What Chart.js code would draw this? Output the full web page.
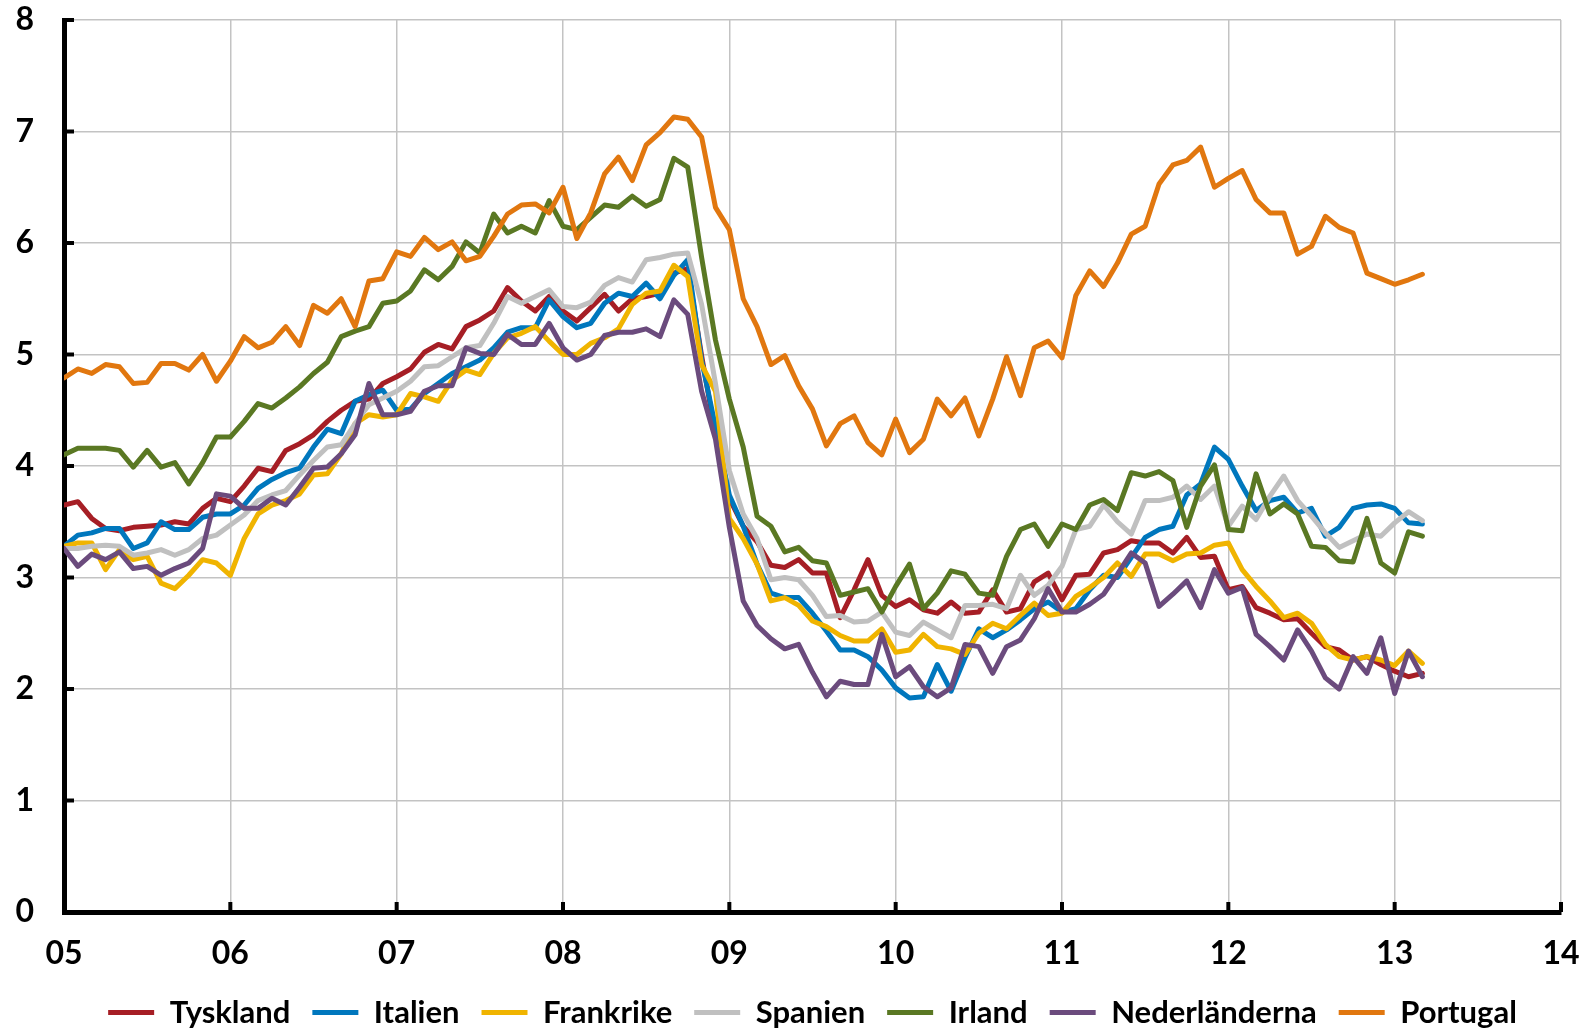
<!DOCTYPE html>
<html>
<head>
<meta charset="utf-8">
<script src="https://cdn.jsdelivr.net/npm/chart.js@4.4.0/dist/chart.umd.min.js"></script>
<style>
  html, body { margin: 0; padding: 0; background: #fff; }
  #wrap { width: 1588px; height: 1031px; }
</style>
</head>
<body>
<div id="wrap"><canvas id="chart"></canvas></div>
<script>
// monthly values, Jan 2005 .. Mar 2013
const yearLabels = ['05', '06', '07', '08', '09', '10', '11', '12', '13', '14'];

const tyskland = [
  3.65, 3.68, 3.53, 3.44, 3.42, 3.45, 3.46, 3.47, 3.50, 3.48, 3.62, 3.71,
  3.68, 3.82, 3.98, 3.95, 4.14, 4.20, 4.28, 4.40, 4.50, 4.58, 4.60, 4.74,
  4.80, 4.87, 5.02, 5.09, 5.05, 5.25, 5.31, 5.39, 5.60, 5.48, 5.39, 5.52,
  5.39, 5.30, 5.42, 5.54, 5.39, 5.50, 5.52, 5.55, 5.73, 5.77, 4.99, 4.28,
  3.71, 3.46, 3.32, 3.11, 3.09, 3.16, 3.04, 3.04, 2.64, 2.89, 3.16, 2.84,
  2.74, 2.80, 2.71, 2.68, 2.78, 2.68, 2.69, 2.89, 2.69, 2.72, 2.96, 3.04,
  2.80, 3.02, 3.03, 3.22, 3.25, 3.33, 3.31, 3.31, 3.22, 3.36, 3.18, 3.19,
  2.89, 2.92, 2.73, 2.68, 2.62, 2.63, 2.50, 2.38, 2.35, 2.26, 2.29, 2.22,
  2.16, 2.11, 2.14
];
const italien = [
  3.28, 3.38, 3.40, 3.44, 3.44, 3.26, 3.31, 3.50, 3.43, 3.43, 3.54, 3.57,
  3.57, 3.65, 3.80, 3.88, 3.94, 3.98, 4.17, 4.33, 4.29, 4.58, 4.64, 4.68,
  4.50, 4.51, 4.65, 4.74, 4.83, 4.89, 4.95, 5.06, 5.20, 5.24, 5.24, 5.49,
  5.34, 5.24, 5.28, 5.46, 5.55, 5.52, 5.64, 5.50, 5.71, 5.85, 4.95, 4.35,
  3.74, 3.46, 3.12, 2.86, 2.82, 2.82, 2.68, 2.52, 2.35, 2.35, 2.29, 2.17,
  2.01, 1.92, 1.93, 2.22, 1.98, 2.28, 2.54, 2.46, 2.53, 2.62, 2.72, 2.78,
  2.69, 2.72, 2.89, 3.02, 3.00, 3.18, 3.36, 3.43, 3.46, 3.74, 3.84, 4.17,
  4.06, 3.82, 3.60, 3.69, 3.72, 3.58, 3.62, 3.37, 3.45, 3.62, 3.65, 3.66,
  3.62, 3.49, 3.48
];
const frankrike = [
  3.28, 3.31, 3.31, 3.07, 3.25, 3.16, 3.19, 2.95, 2.90, 3.02, 3.16, 3.13,
  3.02, 3.35, 3.57, 3.65, 3.69, 3.75, 3.92, 3.93, 4.11, 4.38, 4.46, 4.44,
  4.46, 4.65, 4.62, 4.58, 4.77, 4.86, 4.82, 5.01, 5.15, 5.19, 5.25, 5.12,
  5.00, 5.00, 5.10, 5.15, 5.23, 5.45, 5.55, 5.57, 5.80, 5.70, 4.91, 4.67,
  3.53, 3.35, 3.12, 2.79, 2.82, 2.75, 2.61, 2.56, 2.48, 2.43, 2.43, 2.54,
  2.33, 2.35, 2.49, 2.38, 2.36, 2.31, 2.50, 2.59, 2.54, 2.66, 2.77, 2.66,
  2.68, 2.83, 2.91, 3.00, 3.13, 3.01, 3.21, 3.21, 3.15, 3.21, 3.22, 3.29,
  3.31, 3.07, 2.92, 2.79, 2.64, 2.68, 2.59, 2.40, 2.29, 2.26, 2.29, 2.26,
  2.21, 2.34, 2.23
];
const spanien = [
  3.26, 3.26, 3.28, 3.29, 3.28, 3.20, 3.22, 3.25, 3.20, 3.25, 3.35, 3.38,
  3.47, 3.56, 3.69, 3.74, 3.78, 3.92, 4.05, 4.17, 4.19, 4.38, 4.55, 4.61,
  4.67, 4.76, 4.89, 4.90, 4.98, 5.06, 5.08, 5.28, 5.52, 5.46, 5.52, 5.58,
  5.43, 5.42, 5.47, 5.62, 5.69, 5.65, 5.85, 5.87, 5.90, 5.91, 5.45, 4.74,
  3.96, 3.57, 3.35, 2.98, 3.00, 2.98, 2.84, 2.65, 2.66, 2.60, 2.61, 2.69,
  2.51, 2.48, 2.60, 2.53, 2.46, 2.75, 2.75, 2.76, 2.72, 3.02, 2.84, 2.93,
  3.10, 3.43, 3.46, 3.65, 3.50, 3.39, 3.69, 3.69, 3.72, 3.82, 3.70, 3.82,
  3.46, 3.64, 3.52, 3.73, 3.91, 3.69, 3.55, 3.40, 3.27, 3.33, 3.39, 3.37,
  3.49, 3.59, 3.51
];
const irland = [
  4.10, 4.16, 4.16, 4.16, 4.14, 3.99, 4.14, 3.99, 4.03, 3.84, 4.03, 4.26,
  4.26, 4.40, 4.56, 4.52, 4.61, 4.71, 4.83, 4.93, 5.16, 5.21, 5.25, 5.46,
  5.48, 5.57, 5.76, 5.67, 5.79, 6.01, 5.91, 6.26, 6.09, 6.15, 6.09, 6.38,
  6.15, 6.12, 6.23, 6.34, 6.32, 6.42, 6.33, 6.39, 6.76, 6.68, 5.87, 5.13,
  4.60, 4.17, 3.55, 3.46, 3.23, 3.27, 3.15, 3.13, 2.84, 2.87, 2.90, 2.69,
  2.92, 3.12, 2.72, 2.86, 3.06, 3.03, 2.86, 2.84, 3.19, 3.43, 3.48, 3.28,
  3.48, 3.43, 3.65, 3.70, 3.60, 3.94, 3.91, 3.95, 3.87, 3.45, 3.82, 4.01,
  3.43, 3.42, 3.93, 3.57, 3.66, 3.57, 3.28, 3.27, 3.15, 3.14, 3.53, 3.13,
  3.04, 3.41, 3.37
];
const nederlanderna = [
  3.26, 3.10, 3.21, 3.16, 3.23, 3.08, 3.10, 3.02, 3.08, 3.13, 3.26, 3.75,
  3.73, 3.62, 3.62, 3.71, 3.65, 3.81, 3.98, 3.99, 4.11, 4.28, 4.74, 4.46,
  4.46, 4.49, 4.67, 4.72, 4.72, 5.06, 5.01, 5.00, 5.18, 5.09, 5.09, 5.28,
  5.06, 4.95, 5.00, 5.17, 5.20, 5.20, 5.23, 5.16, 5.49, 5.36, 4.67, 4.24,
  3.45, 2.79, 2.57, 2.45, 2.36, 2.40, 2.15, 1.93, 2.07, 2.04, 2.04, 2.49,
  2.11, 2.20, 2.02, 1.93, 2.01, 2.40, 2.38, 2.14, 2.38, 2.44, 2.63, 2.90,
  2.69, 2.69, 2.76, 2.85, 3.03, 3.22, 3.13, 2.74, 2.85, 2.97, 2.73, 3.07,
  2.86, 2.91, 2.49, 2.38, 2.26, 2.53, 2.34, 2.10, 2.00, 2.29, 2.14, 2.46,
  1.96, 2.34, 2.11
];
const portugal = [
  4.79, 4.87, 4.83, 4.91, 4.89, 4.74, 4.75, 4.92, 4.92, 4.86, 5.00, 4.76,
  4.94, 5.16, 5.06, 5.11, 5.25, 5.08, 5.44, 5.37, 5.50, 5.25, 5.66, 5.68,
  5.92, 5.88, 6.05, 5.94, 6.01, 5.84, 5.88, 6.06, 6.26, 6.34, 6.35, 6.27,
  6.50, 6.04, 6.27, 6.62, 6.77, 6.56, 6.88, 6.99, 7.13, 7.11, 6.95, 6.32,
  6.12, 5.50, 5.25, 4.91, 4.99, 4.72, 4.51, 4.18, 4.38, 4.45, 4.21, 4.10,
  4.42, 4.12, 4.24, 4.60, 4.45, 4.61, 4.27, 4.60, 4.98, 4.63, 5.06, 5.12,
  4.97, 5.53, 5.75, 5.61, 5.82, 6.08, 6.15, 6.53, 6.70, 6.74, 6.86, 6.50,
  6.58, 6.65, 6.39, 6.27, 6.27, 5.90, 5.97, 6.24, 6.14, 6.09, 5.73, 5.68,
  5.63, 5.67, 5.72
];

function series(label, values, color, order) {
    return {
        label: label,
        data: values.map((v, i) => ({x: i, y: v})),
        borderColor: color,
        backgroundColor: color,
        borderWidth: 5,
        borderJoinStyle: 'round',
        borderCapStyle: 'round',
        pointRadius: 0,
        tension: 0,
        order: order
    };
}

const tickFont = {family: 'Lato', size: 32, weight: 'bold'};
const legendFont = {family: 'Lato', size: 31, weight: 'bold'};
const gridColor = '#c3c3c3';

// small inward tick marks on both axes, like the original
const innerTicks = {
    id: 'innerTicks',
    beforeDatasetsDraw(chart) {
        const {ctx, chartArea, scales} = chart;
        ctx.save();
        ctx.strokeStyle = '#000';
        ctx.lineWidth = 4;
        for (const t of scales.y.ticks) {
            const py = scales.y.getPixelForValue(t.value);
            ctx.beginPath();
            ctx.moveTo(chartArea.left, py);
            ctx.lineTo(chartArea.left + 10, py);
            ctx.stroke();
        }
        for (const t of scales.x.ticks) {
            const px = scales.x.getPixelForValue(t.value);
            ctx.beginPath();
            ctx.moveTo(px, chartArea.bottom);
            ctx.lineTo(px, chartArea.bottom - 10);
            ctx.stroke();
        }
        ctx.restore();
    }
};

const ctx = document.getElementById('chart');
new Chart(ctx, {
    type: 'line',
    data: {
        datasets: [
            series('Tyskland', tyskland, '#a61e25', 7),
            series('Italien', italien, '#0077bd', 6),
            series('Frankrike', frankrike, '#f0b400', 5),
            series('Spanien', spanien, '#c0c0c0', 4),
            series('Irland', irland, '#5a7823', 3),
            series('Nederländerna', nederlanderna, '#6b4b7d', 2),
            series('Portugal', portugal, '#e1770f', 1)
        ]
    },
    plugins: [innerTicks],
    options: {
        responsive: true,
        maintainAspectRatio: false,
        animation: false,
        layout: {padding: {left: 0, right: 27, top: 20, bottom: -7}},
        plugins: {
            legend: {
                position: 'bottom',
                fullSize: false,
                labels: {
                    usePointStyle: true,
                    pointStyle: 'line',
                    pointStyleWidth: 46,
                    padding: 22,
                    color: '#000',
                    font: legendFont,
                    sort: (a, b) => a.datasetIndex - b.datasetIndex
                }
            },
            tooltip: {enabled: false}
        },
        scales: {
            x: {
                type: 'linear',
                min: 0,
                max: 108,
                afterFit: (scale) => {
                    scale.height = 63;
                    scale.paddingLeft = 0;
                    scale.paddingRight = 0;
                },
                afterBuildTicks: (scale) => {
                    scale.ticks = yearLabels.map((_, i) => ({value: i * 12}));
                },
                ticks: {
                    padding: 22,
                    color: '#000',
                    font: tickFont,
                    maxRotation: 0,
                    autoSkip: false,
                    callback: (v) => yearLabels[v / 12]
                },
                grid: {color: gridColor, lineWidth: 1.5, drawTicks: false},
                border: {color: '#000', width: 5}
            },
            y: {
                min: 0,
                max: 8,
                afterFit: (scale) => {
                    scale.width = 64;
                    scale.paddingTop = 0;
                    scale.paddingBottom = 0;
                },
                ticks: {stepSize: 1, padding: 30, color: '#000', font: tickFont},
                grid: {color: gridColor, lineWidth: 1.5, drawTicks: false},
                border: {color: '#000', width: 5}
            }
        }
    }
});
</script>
</body>
</html>
